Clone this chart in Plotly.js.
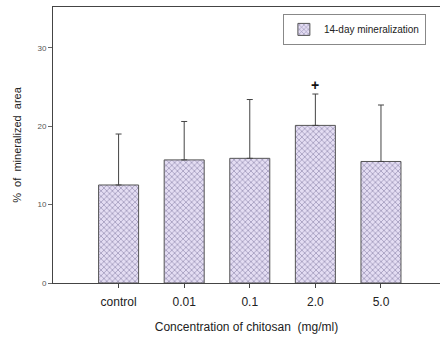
<!DOCTYPE html>
<html><head><meta charset="utf-8">
<script src="https://cdn.plot.ly/plotly-3.0.1.min.js"></script>
<style>html,body{margin:0;padding:0;background:#fff}#c{width:440px;height:339px}</style>
</head><body><div id="c"></div>
<script>
const categories = ["control", "0.01", "0.1", "2.0", "5.0"];
const values = [12.5, 15.7, 15.9, 20.1, 15.5];
const errorsUp = [6.5, 4.9, 7.5, 4.0, 7.2];
const seriesName = "14-day mineralization";
const yTicks = [0, 10, 20, 30];
const markCategory = "2.0";
const markValue = 25.3;

const trace = {
  type: "bar", x: categories, y: values, name: seriesName, width: 0.61,
  marker: {
    color: "#dcd4ee",
    line: {color: "#555", width: 1},
    pattern: {shape: "x", fgcolor: "#8f8aae", bgcolor: "#e4ddf3", size: 4, solidity: 0.3}
  },
  error_y: {type: "data", symmetric: false, array: errorsUp, arrayminus: values.map(() => 0),
    color: "#444", thickness: 1, width: 3}
};
const layout = {
  width: 440, height: 339,
  margin: {l: 53, r: 0, t: 7, b: 56},
  paper_bgcolor: "#fff", plot_bgcolor: "#fff",
  font: {family: "Liberation Sans, Arial, sans-serif", color: "#222"},
  showlegend: true,
  legend: {x: 0.594, xanchor: "left", y: 0.975, yanchor: "top", bordercolor: "#888", borderwidth: 1,
    bgcolor: "#fff", font: {size: 10, color: "#222"}, itemwidth: 30},
  xaxis: {type: "category", range: [-1, 4.9], showgrid: false, zeroline: false,
    showline: true, linecolor: "#444", linewidth: 1, mirror: true,
    ticks: "outside", ticklen: 4, tickcolor: "#444", ticklabelstandoff: 4,
    tickfont: {size: 12, color: "#222"},
    title: {text: "Concentration of chitosan  (mg/ml)", font: {size: 12, color: "#222"}, standoff: 14}},
  yaxis: {range: [0, 35.2], tickvals: yTicks, showgrid: false, zeroline: false,
    showline: true, linecolor: "#444", linewidth: 1,
    ticks: "outside", ticklen: 4, tickcolor: "#666",
    tickfont: {size: 8, color: "#555"},
    title: {text: "%  of  mineralized  area", font: {size: 11, color: "#222"}, standoff: 13}},
  annotations: [{x: categories.indexOf(markCategory), y: markValue, text: "<b>+</b>", showarrow: false,
    font: {size: 14, color: "#111"}, yanchor: "middle"}]
};
Plotly.newPlot("c", [trace], layout, {displayModeBar: false, staticPlot: true});
</script></body></html>
